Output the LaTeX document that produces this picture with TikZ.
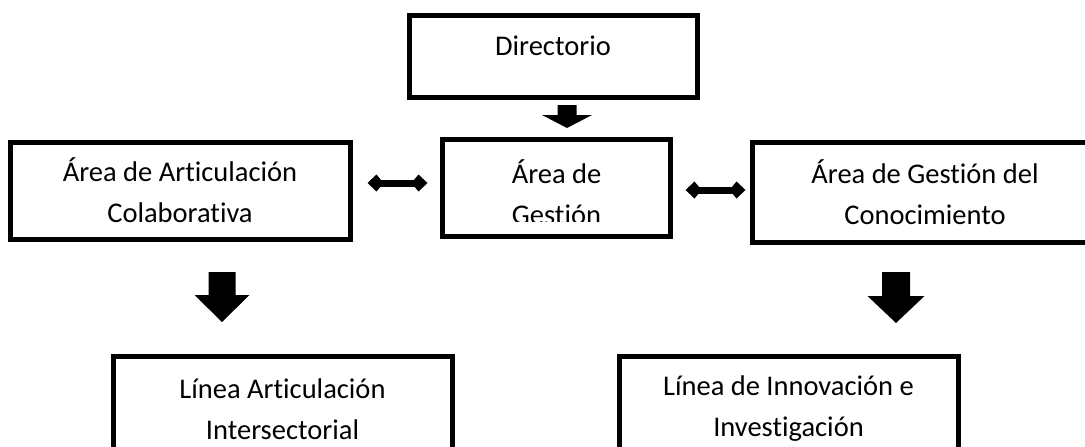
\documentclass[tikz,border=0pt]{standalone}
\usepackage{fontspec}
\setmainfont{Carlito}[Ligatures=NoCommon]
\usetikzlibrary{arrows.meta,calc}

% flecha de bloque: x, y inicio, y cuello, y punta, medio ancho cuerpo, medio ancho punta
\newcommand{\flechabloque}[6]{\fill (#1-#5,#2) -- (#1+#5,#2) -- (#1+#5,#3) -- (#1+#6,#3) -- (#1,#4) -- (#1-#6,#3) -- (#1-#5,#3) -- cycle;}

\begin{document}
\begin{tikzpicture}[x=1pt, y=-1pt,
  caja/.style={draw, line width=5pt, rectangle, align=center, inner sep=0pt, font=\fontsize{28.5}{41}\selectfont},
  flecha/.style={line width=7pt, {Kite[length=16pt,width=17pt,inset=7pt]}-{Kite[length=16pt,width=17pt,inset=7pt]}}]

\useasboundingbox (0,0) rectangle (1085,447);
\clip (0,0) rectangle (1085,447);

\node[caja, minimum width=288pt, minimum height=82pt, text depth=20pt] (dir) at (553,56) {Directorio};

\node[caja, minimum width=340pt, minimum height=97pt] (art) at (180,190.5) {Área de Articulación\\Colaborativa};

% el texto de la caja central queda cortado abajo
\begin{scope}
\clip (445,142) rectangle (668,221);
\node[caja, draw=none, minimum width=223pt, minimum height=92pt] (ges) at (556.5,192) {Área de\\Gestión};
\end{scope}
\draw[line width=5pt] ($(ges.north west)+(0,-4)$) rectangle ($(ges.south east)+(0,-4)$);

\node[caja, minimum width=346pt, minimum height=100pt] (con) at (925,192) {Área de Gestión del\\Conocimiento};

\node[caja, minimum width=339pt, minimum height=106pt] (lia) at (282.5,409) {Línea Articulación\\Intersectorial};
\node[caja, minimum width=339pt, minimum height=106pt] (lii) at (788.5,409) {Línea de Innovación e\\Investigación};

\draw[flecha] ($(art.east)+(15,-7.5)$) -- ($(ges.west)+(-15,-9)$);
\draw[flecha] ($(ges.east)+(15,-2)$) -- ($(con.west)+(-4,-2)$);

\flechabloque{567}{105}{115}{128}{9.5}{25}
\flechabloque{222}{272}{295}{322}{13.5}{27.5}
\flechabloque{896}{272}{296}{323}{14}{28.5}

\end{tikzpicture}
\end{document}
